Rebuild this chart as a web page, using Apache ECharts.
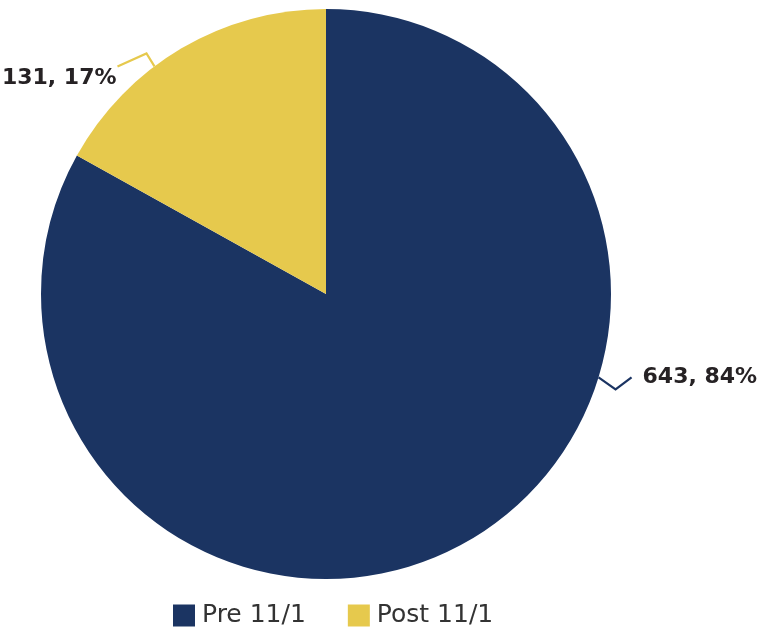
<!DOCTYPE html>
<html>
<head>
<meta charset="utf-8">
<script src="https://cdn.jsdelivr.net/npm/echarts@6/dist/echarts.min.js"></script>
<style>
html,body{margin:0;padding:0;background:#fff;}
#chart{width:767px;height:628px;}
</style>
</head>
<body>
<div id="chart"></div>
<script>
const categories = ['Pre 11/1', 'Post 11/1'];
const values = [643, 131];
const percentLabels = ['84%', '17%'];
const colors = ['#1b3462', '#e6c94d'];

const CX = 326, CY = 294, R = 285;
// label anchor angles (degrees, screen coords, 0 = right, positive = down)
const anchorAngles = [17, -127];

const chart = echarts.init(document.getElementById('chart'), null, {renderer: 'canvas'});

function rad(d){ return d * Math.PI / 180; }

chart.setOption({
  animation: false,
  color: colors,
  legend: {
    data: categories,
    top: 598,
    left: 168,
    itemWidth: 22,
    itemHeight: 22,
    itemGap: 42,
    icon: 'rect',
    textStyle: {fontFamily: 'DejaVu Sans', fontSize: 25, color: '#333333', padding: [0,0,0,2]}
  },
  series: [{
    type: 'pie',
    center: [CX, CY],
    radius: R,
    startAngle: 90,
    clockwise: true,
    data: categories.map((c, i) => ({name: c, value: values[i]})),
    itemStyle: {borderWidth: 0},
    label: {
      show: true,
      formatter: p => values[p.dataIndex] + ', ' + percentLabels[p.dataIndex],
      fontFamily: 'DejaVu Sans',
      fontWeight: 'bold',
      fontSize: 22,
      color: '#262224'
    },
    labelLine: {show: true, length: 20, length2: 20, lineStyle: {width: 2.2}},
    labelLayout: function (params) {
      const i = params.dataIndex;
      const a = rad(anchorAngles[i]);
      const ex = CX + R * Math.cos(a), ey = CY + R * Math.sin(a);
      if (i === 0) {
        return {
          x: ex + 44, y: ey,
          align: 'left', verticalAlign: 'middle',
          labelLinePoints: [[ex, ey], [ex + 17, ey + 12], [ex + 33, ey]]
        };
      } else {
        return {
          x: ex - 38, y: ey + 12,
          align: 'right', verticalAlign: 'middle',
          labelLinePoints: [[ex, ey], [ex - 8, ey - 13], [ex - 37, ey]]
        };
      }
    }
  }]
});
</script>
</body>
</html>
